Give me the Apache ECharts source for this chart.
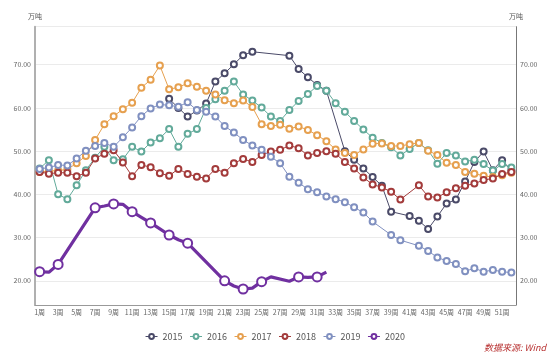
<!DOCTYPE html>
<html>
<head>
<meta charset="utf-8">
<script src="https://cdn.jsdelivr.net/npm/echarts@6/dist/echarts.min.js"></script>
<style>html,body{margin:0;padding:0;background:#fff;}#c{width:550px;height:357px;}</style>
</head>
<body>
<div id="c"></div>
<script>
var weeks = [];
for (var i = 1; i <= 52; i++) weeks.push(i + '周');

var s2015 = [null,null,null,null,null,null,null,null,null,null,null,null,null,null,
  62.1,60.0,58.0,59.4,61.0,66.1,68.0,70.1,72.2,73.0,null,null,null,72.1,69.0,67.1,
  65.3,64.0,null,50.0,48.0,46.0,44.0,42.0,36.0,null,35.0,33.9,32.0,34.9,37.9,38.8,
  43.0,47.5,49.9,45.6,47.9,45.5];
var s2016 = [46.0,47.9,40.0,38.9,42.1,45.6,48.5,51.0,47.9,48.1,51.0,49.9,52.0,53.0,
  55.1,51.0,54.0,55.1,60.0,62.0,64.0,66.1,63.1,61.7,60.1,58.0,57.0,59.5,61.6,63.2,
  65.1,64.0,61.1,59.1,57.0,55.0,53.1,51.9,50.9,49.0,50.5,51.9,50.2,47.1,49.6,49.0,
  47.6,48.0,47.0,45.5,47.0,46.2];
var s2017 = [45.2,45.4,45.5,45.8,47.2,48.9,52.6,56.2,58.1,59.7,61.2,64.7,66.5,69.8,
  64.3,64.8,65.7,64.9,64.0,63.1,61.8,61.1,61.7,60.2,56.2,55.8,56.1,55.2,55.7,54.9,
  53.7,52.3,50.4,49.6,49.1,50.4,51.7,51.8,51.2,51.2,51.6,51.9,50.1,49.1,47.3,46.8,
  45.2,44.8,44.3,44.0,44.4,45.0];
var s2018 = [45.2,44.8,45.0,45.0,44.2,45.0,48.3,49.4,50.2,47.4,44.2,46.8,46.3,44.9,
  44.3,45.9,44.7,44.1,43.7,45.9,45.0,47.2,48.2,47.5,49.1,49.9,50.3,51.3,50.7,49.0,
  49.6,50.0,49.4,47.5,46.0,43.9,42.3,41.6,40.6,38.8,null,42.1,39.5,39.3,40.5,41.4,
  42.0,42.5,43.3,43.7,44.7,45.2];
var s2019 = [45.9,46.2,46.8,46.7,48.3,50.1,51.2,51.9,51.0,53.2,55.5,58.1,59.9,60.8,
  60.6,60.3,61.3,59.5,59.1,58.0,55.8,54.3,52.6,51.3,50.3,48.7,47.2,44.1,42.7,41.2,
  40.5,39.5,38.9,38.2,37.0,35.8,33.7,null,30.6,29.4,null,28.1,26.9,25.4,24.6,23.9,
  22.2,22.9,22.1,22.5,22.1,21.9];
var s2020 = [22.1,22.0,23.8,null,null,null,36.9,37.3,37.8,37.7,36.0,34.7,33.4,32.0,
  30.6,29.5,28.7,null,null,null,20.0,18.8,18.1,18.3,19.8,20.9,null,19.9,20.9,20.8,
  20.9,22.0];

var names = ['2015','2016','2017','2018','2019','2020'];
var colors = ['#4a4a68','#62aa9a','#e6a04f','#a33b3b','#8090c0','#7030a0'];
var dataList = [s2015,s2016,s2017,s2018,s2019,s2020];

var labelFont = 'Noto Sans CJK SC';
var chart = echarts.init(document.getElementById('c'), null, {renderer:'canvas'});

var series = names.map(function(n, k){
  var last = (k === 5);
  return {
    name: n,
    type: 'line',
    data: dataList[k],
    connectNulls: true,
    symbol: 'emptyCircle',
    symbolSize: last ? 9 : 6,
    showAllSymbol: last ? false : true,
    lineStyle: {color: colors[k], width: last ? 3.2 : 1},
    itemStyle: {color: colors[k], borderWidth: last ? 1.6 : 1},
    z: last ? 10 : 2 + k,
    animation: false
  };
});

function yAxisCfg(pos){
  return {
    type: 'value',
    position: pos,
    min: 14.4,
    max: 78.8,
    name: '万吨',
    nameLocation: 'end',
    nameGap: 7,
    nameTextStyle: {fontSize: 7, color: '#555', fontFamily: labelFont},
    axisLine: {show: true, lineStyle: {color: pos === 'left' ? '#b0b0b0' : '#777', width: pos === 'left' ? 2 : 1}},
    axisTick: {show: false},
    axisLabel: {
      fontSize: 7, color: '#666', fontFamily: labelFont, margin: 4,
      showMinLabel: false, showMaxLabel: false,
      formatter: function(v){ return v.toFixed(2); }
    },
    splitLine: {show: pos === 'left', lineStyle: {color: '#ebebeb', width: 1}}
  };
}

chart.setOption({
  animation: false,
  color: colors,
  grid: {left: 35, right: 34, top: 26.7, bottom: 52, containLabel: false},
  legend: {
    data: names,
    top: 327,
    left: 'center',
    itemWidth: 12,
    itemHeight: 6,
    itemGap: 7,
    lineStyle: {width: 1},
    itemStyle: {borderWidth: 1},
    textStyle: {fontSize: 9, color: '#555', fontFamily: labelFont}
  },
  xAxis: {
    type: 'category',
    data: weeks,
    boundaryGap: true,
    axisLine: {lineStyle: {color: '#999'}},
    axisTick: {alignWithLabel: true, interval: 1, length: 3, lineStyle: {color: '#999'}},
    axisLabel: {interval: 1, fontSize: 7, color: '#666', fontFamily: labelFont, margin: 4}
  },
  yAxis: [yAxisCfg('left'), yAxisCfg('right')],
  series: series,
  graphic: [{
    type: 'text',
    right: 4,
    top: 343,
    style: {text: '数据来源: Wind', fill: '#b83232', font: 'italic 9px "Noto Sans CJK SC"'}
  }]
});
</script>
</body>
</html>
